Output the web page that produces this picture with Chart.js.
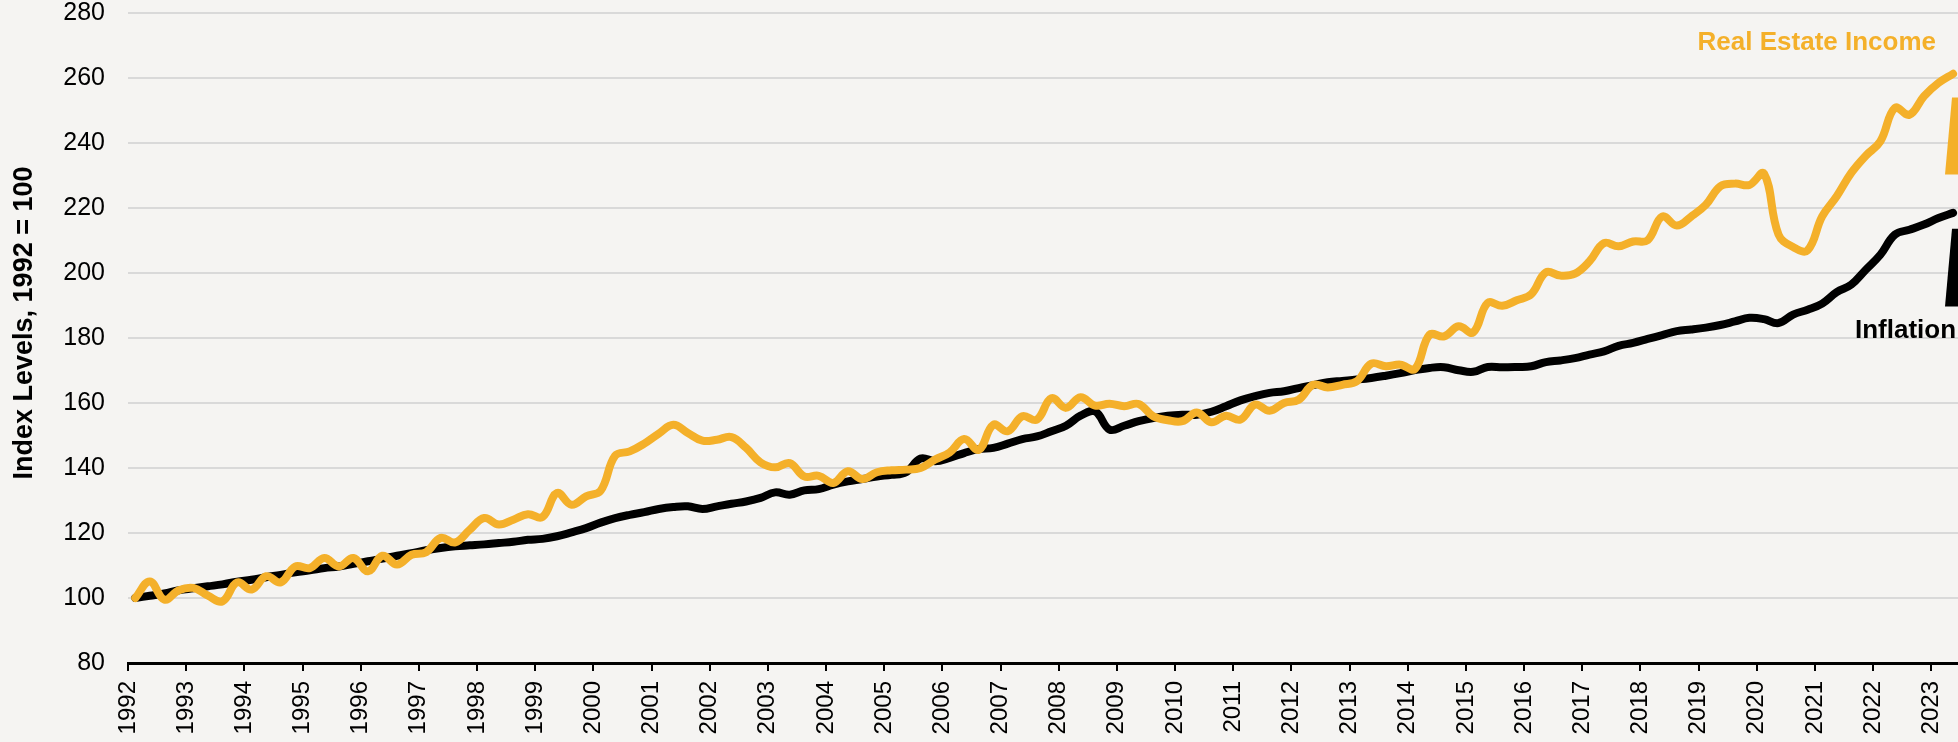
<!DOCTYPE html>
<html>
<head>
<meta charset="utf-8">
<script src="https://cdn.jsdelivr.net/npm/chart.js@4.4.1/dist/chart.umd.min.js"></script>
<style>
  html, body { margin: 0; padding: 0; background: #f5f4f2; overflow: hidden; }
  #wrap { width: 1958px; height: 742px; }
</style>
</head>
<body>
<div id="wrap"><canvas id="myChart"></canvas></div>
<script>
// quarterly index levels, 1992 = 100 (one row per year)
const realEstateIncome = [
  100.0, 105.1, 99.5, 102.4,
  103.1, 100.7, 99.0, 104.8,
  102.6, 106.7, 104.8, 109.7,
  109.2, 112.3, 109.7, 112.3,
  108.2, 113.0, 110.3, 113.3,
  114.1, 118.5, 117.1, 121.0,
  124.6, 122.6, 124.1, 125.8,
  124.9, 132.3, 128.7, 131.3,
  133.0, 143.8, 145.1, 147.5,
  150.6, 153.3, 150.8, 148.4,
  148.7, 149.5, 146.2, 141.7,
  140.2, 141.5, 137.4, 137.6,
  135.4, 139.0, 136.6, 138.7,
  139.3, 139.5, 140.0, 142.6,
  144.8, 148.9, 145.6, 153.3,
  151.3, 155.9, 154.9, 161.5,
  158.5, 161.8, 159.2, 159.8,
  159.0, 159.7, 155.9, 154.7,
  154.4, 157.1, 154.1, 156.1,
  154.9, 159.5, 157.6, 160.0,
  161.0, 165.6, 164.8, 165.6,
  166.7, 172.1, 171.3, 171.8,
  170.5, 181.0, 180.5, 183.6,
  181.7, 190.8, 189.9, 191.6,
  193.5, 200.2, 199.2, 199.8,
  203.6, 209.2, 208.2, 209.7,
  210.1, 217.4, 214.6, 217.4,
  221.0, 226.7, 227.5, 227.1,
  230.6, 211.8, 208.0, 207.0,
  217.4, 223.6, 230.8, 236.1,
  240.5, 250.8, 248.7, 254.4,
  258.5, 261.3
];

const inflation = [
  100.0, 100.7, 101.4, 102.4,
  103.0, 103.6, 104.2, 105.0,
  105.6, 106.4, 107.1, 107.9,
  108.5, 109.2, 109.7, 110.5,
  111.3, 112.1, 113.0, 113.8,
  114.7, 115.4, 115.9, 116.2,
  116.5, 116.9, 117.3, 117.9,
  118.2, 119.0, 120.2, 121.5,
  123.2, 124.6, 125.6, 126.4,
  127.4, 128.0, 128.2, 127.4,
  128.2, 129.0, 129.7, 130.8,
  132.5, 131.8, 133.1, 133.5,
  134.9, 135.9, 136.6, 137.4,
  137.9, 138.7, 142.9, 142.1,
  143.1, 144.6, 145.8, 146.2,
  147.5, 148.9, 149.7, 151.3,
  153.0, 156.1, 157.4, 151.8,
  153.0, 154.4, 155.4, 156.1,
  156.4, 156.4, 157.3, 159.0,
  160.8, 162.1, 163.1, 163.6,
  164.6, 165.5, 166.4, 166.8,
  167.2, 167.7, 168.4, 169.2,
  170.1, 170.8, 171.0, 170.1,
  169.6, 171.1, 171.0, 171.1,
  171.3, 172.6, 173.1, 173.8,
  174.9, 175.9, 177.6, 178.5,
  179.7, 180.9, 182.1, 182.6,
  183.2, 184.0, 185.1, 186.2,
  185.8, 184.6, 187.2, 188.7,
  190.6, 194.1, 196.4, 201.0,
  205.6, 211.8, 213.3, 214.9,
  216.9, 218.5
];

const firstYear = 1992;
const quarters = [];
for (let i = 0; i < realEstateIncome.length; i++) {
  quarters.push((firstYear + Math.floor(i / 4)) + ' Q' + (i % 4 + 1));
}

const yTicks = [80, 280, 20];   // min, max, step
const yTitle = 'Index Levels, 1992 = 100';

const orange = 'rgb(244, 176, 42)';
const black = '#000000';
const gridGrey = '#d9d9d9';
const fontFamily = '"Liberation Sans", Arial, sans-serif';

// each quarter is plotted at its mid point on a yearly axis
function toPoints(values) {
  return values.map((v, i) => {
    const [yr, q] = quarters[i].split(' Q');
    return { x: Number(yr) + (Number(q) - 0.5) / 4, y: v };
  });
}

const annotations = {
  id: 'annotations',
  afterDraw(chart) {
    const { ctx, chartArea } = chart;
    const y = chart.scales.y;
    const r = chartArea.right;
    ctx.save();

    // axis title
    ctx.save();
    ctx.translate(25, 323);
    ctx.rotate(-Math.PI / 2);
    ctx.font = 'bold 27px ' + fontFamily;
    ctx.fillStyle = black;
    ctx.textAlign = 'center';
    ctx.textBaseline = 'middle';
    ctx.fillText(yTitle, 0, 0);
    ctx.restore();

    // series labels
    ctx.font = 'bold 26px ' + fontFamily;
    ctx.textBaseline = 'alphabetic';
    ctx.fillStyle = orange;
    ctx.textAlign = 'right';
    ctx.fillText('Real Estate Income', r - 22, 50);
    ctx.fillStyle = black;
    ctx.textAlign = 'left';
    ctx.fillText('Inflation', r - 103, 338);

    // pointer wedges
    function wedge(color, top, bottom) {
      ctx.fillStyle = color;
      ctx.beginPath();
      ctx.moveTo(r - 6, y.getPixelForValue(top));
      ctx.lineTo(r + 2, y.getPixelForValue(top));
      ctx.lineTo(r + 2, y.getPixelForValue(bottom));
      ctx.lineTo(r - 13, y.getPixelForValue(bottom));
      ctx.closePath();
      ctx.fill();
    }
    wedge(orange, 254, 230.3);
    wedge(black, 213.6, 189.7);
    ctx.restore();
  }
};

const ctx = document.getElementById('myChart');

new Chart(ctx, {
  type: 'line',
  data: {
    datasets: [{
      label: 'Real Estate Income',
      data: toPoints(realEstateIncome),
      borderColor: orange,
      borderWidth: 8,
      pointRadius: 0,
      tension: 0.4,
      borderCapStyle: 'round',
      borderJoinStyle: 'round'
    }, {
      label: 'Inflation',
      data: toPoints(inflation),
      borderColor: black,
      borderWidth: 8,
      pointRadius: 0,
      tension: 0.4,
      borderCapStyle: 'round',
      borderJoinStyle: 'round'
    }]
  },
  options: {
    responsive: true,
    maintainAspectRatio: false,
    animation: false,
    layout: { padding: { top: 13, right: 0, left: 0, bottom: 0 } },
    plugins: {
      legend: { display: false },
      tooltip: { enabled: false }
    },
    scales: {
      x: {
        type: 'linear',
        min: firstYear,
        max: 2023.46,
        afterFit: (s) => {
          s.height = 79;
          s.paddingLeft = 0;
          s.paddingRight = 0;
        },
        grid: {
          drawOnChartArea: false,
          drawTicks: true,
          tickLength: 8,
          color: black,
          lineWidth: 2
        },
        border: { display: true, color: black, width: 3 },
        ticks: {
          stepSize: 1,
          includeBounds: false,
          autoSkip: false,
          minRotation: 90,
          maxRotation: 90,
          padding: 10,
          color: black,
          font: { family: fontFamily, size: 24 },
          callback: (v) => String(v)
        }
      },
      y: {
        min: yTicks[0],
        max: yTicks[1],
        afterFit: (s) => {
          s.width = 128;
          s.paddingTop = 0;
          s.paddingBottom = 0;
        },
        grid: {
          color: gridGrey,
          lineWidth: 2,
          drawTicks: false
        },
        border: { display: false },
        ticks: {
          stepSize: yTicks[2],
          padding: 23,
          color: black,
          font: { family: fontFamily, size: 25 }
        }
      }
    }
  },
  plugins: [annotations]
});
</script>
</body>
</html>
